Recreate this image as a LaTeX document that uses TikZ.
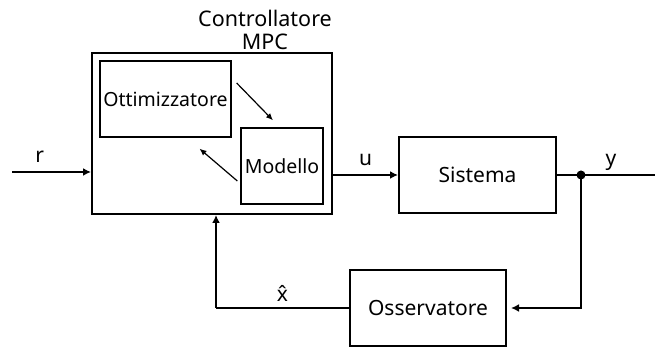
\documentclass[tikz,border=0pt]{standalone}
\usepackage{fontspec}
\setmainfont{Noto Sans}
\usepackage{tikz}
\usetikzlibrary{calc,positioning,arrows.meta}
\tikzstyle{blocco}    = [draw, line width=2pt, minimum height=76pt, font=\fontsize{21}{25}\selectfont]
\tikzstyle{interno}   = [draw, line width=1.3pt, minimum height=76pt, font=\fontsize{19.5}{23}\selectfont]
\tikzstyle{freccia}   = [line width=2pt,->,>={Latex[length=8pt,width=8pt]}]
\tikzstyle{frecciina} = [line width=1.2pt,->,>={Latex[length=7pt,width=6pt]}]
\tikzstyle{segnale}   = [anchor=base, yshift=9pt, font=\fontsize{21}{25}\selectfont]

\begin{document}
\begin{tikzpicture}[x=1pt,y=1pt]
        \useasboundingbox (0,0) rectangle (655,347);

        % controllore con i suoi due blocchi
        \node[draw, line width=2pt, minimum width=240pt, minimum height=161pt] (mpc) at (212,213.5) {};
        \node[font=\fontsize{21.5}{23}\selectfont, align=center] (titolo) at (265,317) {Controllatore\\MPC};
        \node[interno, minimum width=129pt] (ott) at (165.5,248) {Ottimizzatore};
        \node[interno, minimum width=82pt] (mod) at (282,181) {Modello};

        % impianto e osservatore
        \node[blocco, minimum width=157pt] (sis) at (477.5,172) {Sistema};
        \node[blocco, minimum width=156pt] (oss) at (428,39) {Osservatore};

        \coordinate (ingresso) at (12,175);
        \coordinate (ramo) at (581,172);
        \coordinate (uscita) at (655,172);
        \coordinate (stima) at (216,39);

        \draw[frecciina] ($(ott.east)+(5,16)$) -- ($(mod.north)+(-9,7)$);
        \draw[frecciina] ($(mod.west)+(-3,-15)$) -- ($(ott.south)+(34,-11)$);

        \draw[freccia] (ingresso) -- node[segnale, pos=0.35] {r} (mpc.west |- ingresso);
        \draw[freccia] (mpc.east |- sis.west) -- node[segnale] {u} (sis.west);
        \draw[line width=2pt] (sis.east) -- node[segnale, pos=0.55] {y} (uscita);
        \fill (ramo) circle (4.5pt);
        \draw[freccia, shorten >=4pt] (ramo) |- (oss.east);
        \draw[line width=2pt] (oss.west) -- node[segnale, yshift=-3pt] {\^{x}} (stima);
        \draw[freccia] (stima) -- (stima |- mpc.south);
    \end{tikzpicture}
\end{document}
